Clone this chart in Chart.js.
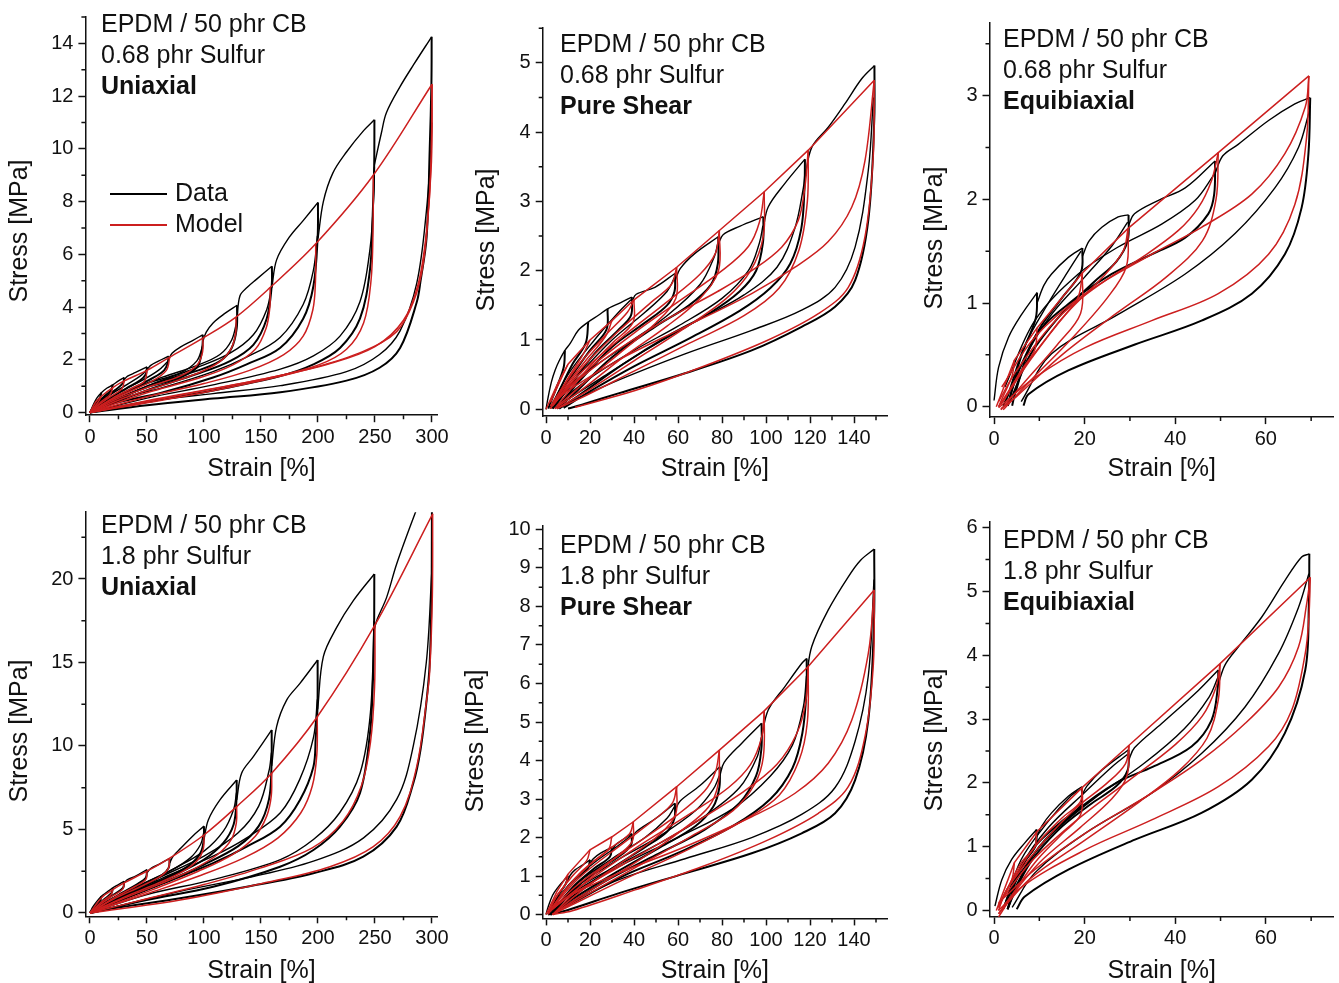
<!DOCTYPE html>
<html>
<head>
<meta charset="utf-8">
<script src="https://cdn.jsdelivr.net/npm/chart.js@4.4.1/dist/chart.umd.min.js"></script>
<style>
  body { margin: 0; width: 1339px; height: 983px; overflow: hidden; background: #fff;
         font-family: "Liberation Sans", Arial, sans-serif; color: #111; }
  canvas { position: absolute; }
  .note { position: absolute; font-size: 25px; line-height: 31px; white-space: nowrap; }
  .legend { position: absolute; font-size: 25px; line-height: 31px; white-space: nowrap; }
  .legend i { display: inline-block; width: 57px; height: 2px; vertical-align: middle; margin-right: 8px; }
</style>
</head>
<body>
<script>
// ---- tick labels ----
const uniXTicks = [0, 50, 100, 150, 200, 250, 300];
const shearXTicks = [0, 20, 40, 60, 80, 100, 120, 140];
const biaxXTicks = [0, 20, 40, 60];
const u1YTicks = [0, 2, 4, 6, 8, 10, 12, 14];
const s1YTicks = [0, 1, 2, 3, 4, 5];
const e1YTicks = [0, 1, 2, 3];
const u2YTicks = [0, 5, 10, 15, 20];
const s2YTicks = [0, 1, 2, 3, 4, 5, 6, 7, 8, 9, 10];
const e2YTicks = [0, 1, 2, 3, 4, 5, 6];

// ---- 0.68 phr sulfur, uniaxial ----  [strain %, stress MPa]
const u1Virgin = [
  [[0,0],[3,0.3],[6,0.55],[10,0.75],[15,0.93],[20,1.05],[25,1.2],[30,1.33]],
  [[30,1.25],[33,1.38],[40,1.52],[50,1.73]],
  [[50,1.62],[53,1.78],[60,1.95],[69,2.14]],
  [[69,2.0],[72,2.25],[80,2.5],[90,2.73],[99,2.95]],
  [[99,2.7],[102,3.05],[108,3.4],[118,3.75],[129,4.07]],
  [[129,3.6],[131.6,4.43],[138,4.75],[146,5.05],[159.6,5.55]],
  [[159.6,4.75],[163.7,5.79],[175,6.66],[187,7.28],[200,7.97]],
  [[200,6.6],[204.7,8.0],[213,9.08],[225,9.88],[240,10.69],[249.5,11.1]],
  [[249.5,9.4],[255.6,10.6],[260,11.37],[272,12.36],[284,13.2],[299.7,14.25]]
];
const u1Unload = [
  [[299.7,14.25],[299.5,12.5],[298,10],[295.3,6.66],[290,5.0],[286.6,4.18],[272,2.45],[254,1.7],[225,1.21],[167,0.77],[108,0.53],[50,0.28],[0,0]],
  [[249.5,11.1],[249.3,9.4],[248,7.5],[245.6,5.42],[236.8,3.56],[219.3,2.45],[196,1.83],[167,1.39],[108,0.84],[50,0.4],[0,0]],
  [[200,7.97],[199.7,6.66],[196,4.8],[187,3.56],[166.7,2.45],[137.4,1.83],[108,1.33],[64.3,0.77],[20.5,0.34],[0,0]],
  [[159.6,5.55],[159.4,4.8],[155,3.56],[143.3,2.57],[122.8,1.95],[93.6,1.46],[49.7,0.84],[0,0]],
  [[129,4.07],[128.7,3.19],[124.3,2.45],[114,1.95],[93.6,1.58],[64.3,1.21],[35,0.71],[0,0]],
  [[99,2.95],[98.8,2.6],[97,2.05],[93.6,1.7],[79,1.33],[49.7,0.96],[20.5,0.46],[0,0]],
  [[69,2.14],[68,1.85],[65,1.6],[58,1.38],[45,1.08],[25,0.65],[0,0]],
  [[50,1.73],[49,1.45],[44,1.22],[32,0.92],[15,0.48],[0,0]],
  [[30,1.33],[29,1.12],[22,0.85],[10,0.45],[0,0]],
  [[20,1.05],[18.5,0.85],[11,0.55],[0,0]],
  [[10,0.75],[8.5,0.55],[4,0.28],[0,0]]
];
const u1Reload = [
  [[0,0],[50,0.42],[108,0.72],[167,1.02],[225,1.55],[254,2.2],[272,3.1],[286.6,4.9],[295,7.6],[299,10.0],[299.8,11.0]],
  [[0,0],[50,0.55],[108,1.05],[167,1.65],[196,2.15],[219.3,2.9],[236.8,4.2],[245.6,6.2],[249,8.3],[249.5,9.3]],
  [[0,0],[20.5,0.45],[64.3,0.95],[108,1.55],[137.4,2.1],[166.7,2.85],[187,4.1],[196,5.4],[199.5,6.7]],
  [[0,0],[49.7,1.0],[93.6,1.7],[122.8,2.25],[143.3,2.95],[155,3.9],[159.5,4.8]],
  [[0,0],[35,0.85],[64.3,1.35],[93.6,1.78],[114,2.2],[124.3,2.75],[129,3.5]],
  [[0,0],[20.5,0.55],[49.7,1.1],[79,1.5],[93.6,1.95],[99,2.55]],
  [[0,0],[25,0.75],[45,1.2],[60,1.6],[68.5,1.95]],
  [[0,0],[15,0.58],[32,1.05],[44,1.38],[49.5,1.6]]
];
const u1ModelVirgin = [[0,0],[5,0.4],[10,0.62],[20,0.95],[30,1.2],[50,1.6],[70,2.1],[99,2.82],[128,3.62],[158,4.74],[198,6.4],[248.5,9.0],[300,12.45]];
const u1ModelUnload = [
  [[300,12.45],[299.8,10.8],[298,8.4],[292.4,5.67],[283.6,4.18],[269,3.07],[239.7,2.32],[196,1.7],[137.4,1.09],[79,0.59],[0,0]],
  [[300,12.45],[299.5,9.5],[295,6.8],[288,4.9],[275,3.5],[250,2.5],[210,1.85],[150,1.25],[90,0.75],[0,0]],
  [[248.5,9.0],[248.3,7.0],[246.5,5.0],[240,3.4],[225,2.4],[200,1.8],[150,1.25],[100,0.85],[50,0.45],[0,0]],
  [[198,6.4],[197.8,5.0],[195.5,3.9],[187,2.9],[170,2.2],[140,1.6],[100,1.1],[50,0.6],[0,0]],
  [[158,4.74],[157.8,4.0],[154.5,3.2],[145,2.4],[125,1.8],[95,1.3],[50,0.75],[0,0]],
  [[128,3.62],[127.8,3.0],[123.5,2.4],[113,1.9],[95,1.5],[65,1.05],[30,0.55],[0,0]],
  [[99,2.82],[98.8,2.3],[94,1.8],[80,1.4],[50,0.95],[20,0.45],[0,0]],
  [[70,2.1],[67,1.6],[55,1.2],[35,0.8],[15,0.4],[0,0]],
  [[50,1.6],[48,1.2],[38,0.95],[20,0.55],[0,0]],
  [[30,1.2],[28,0.9],[18,0.6],[8,0.3],[0,0]],
  [[20,0.95],[18,0.7],[10,0.42],[0,0]],
  [[10,0.62],[8,0.45],[4,0.22],[0,0]]
];

// ---- 0.68 phr sulfur, pure shear ----
const s1Virgin = [
  [[0,0],[1,0.18],[2.5,0.4],[4.1,0.56],[6,0.7],[8.6,0.85],[11,0.95],[14.7,1.14],[19.2,1.26],[24,1.36],[28,1.45],[34,1.54],[39,1.62]],
  [[39,1.55],[41,1.66],[49.5,1.76],[58.6,1.96]],
  [[58.6,1.85],[61,2.03],[67.7,2.25],[78.3,2.49]],
  [[78.3,2.38],[80.5,2.52],[88,2.64],[98.8,2.78]],
  [[98.8,2.62],[101,2.92],[108.6,3.26],[117.7,3.61]],
  [[117.7,3.35],[120.8,3.78],[128.3,4.07],[135.9,4.41],[143.5,4.77],[149.3,4.96]]
];
const s1Unload = [
  [[149.3,4.96],[149.2,4.17],[146.5,2.73],[140.5,1.86],[131.4,1.48],[116.2,1.19],[93.5,0.85],[63.2,0.52],[32.9,0.23],[17.7,0.08],[10,0.01]],
  [[117.7,3.61],[117.5,3.2],[116,2.6],[111,2.1],[102,1.75],[88,1.42],[65,1.02],[40,0.62],[20,0.26],[8,0.02]],
  [[98.8,2.78],[98.6,2.4],[95.5,2.0],[88,1.7],[75,1.4],[55,1.05],[35,0.65],[15,0.2],[6,0.01]],
  [[78.3,2.49],[78.1,2.1],[75,1.8],[65,1.5],[50,1.2],[30,0.75],[12,0.2],[5,0.01]],
  [[58.6,1.96],[58.4,1.7],[55,1.5],[45,1.25],[30,0.9],[15,0.4],[5,0.01]],
  [[39,1.62],[38.6,1.35],[33,1.15],[22,0.8],[10,0.3],[3,0.01]],
  [[28,1.45],[27.5,1.15],[20,0.85],[10,0.4],[3,0.01]],
  [[19.2,1.26],[18,0.95],[12,0.65],[5,0.2],[2,0.01]],
  [[8.6,0.85],[8,0.6],[4,0.25],[1,0.01]]
];
const s1Reload = [
  [[5,0.02],[32.9,0.42],[63.2,0.8],[93.5,1.14],[116.2,1.43],[131.4,1.76],[140.5,2.34],[146.5,3.45],[148.8,4.5]],
  [[4,0.02],[25,0.45],[45,0.85],[70,1.3],[90,1.65],[105,2.05],[113,2.6],[117,3.2],[117.7,3.4]],
  [[3,0.02],[20,0.45],[40,0.85],[60,1.2],[80,1.6],[92,2.0],[97,2.4],[98.6,2.65]],
  [[3,0.02],[15,0.45],[35,0.9],[55,1.35],[70,1.8],[76.5,2.2],[78.1,2.4]],
  [[2,0.02],[15,0.5],[30,1.0],[45,1.4],[55,1.7],[58.4,1.9]],
  [[2,0.02],[10,0.5],[22,1.0],[33,1.4],[38.6,1.58]]
];
const s1ModelVirgin = [[0,0],[5,0.35],[10,0.65],[20,1.0],[30,1.28],[40,1.58],[59.4,2.05],[78.8,2.58],[99.2,3.14],[119.2,3.74],[149.2,4.75]];
const s1ModelUnload = [
  [[149.2,4.75],[145,3.59],[139,2.92],[128.3,2.42],[113.2,2.05],[93.5,1.67],[63.2,1.19],[32.9,0.71],[10,0.27],[2,0.05]],
  [[149.2,4.75],[148.8,3.69],[145,2.49],[137.4,1.76],[123.8,1.38],[101,1.0],[70.8,0.61],[40.5,0.27],[13.2,0.03]],
  [[119.2,3.74],[117.7,3.21],[114.7,2.73],[107.1,2.34],[93.5,2.0],[78,1.7],[55,1.3],[30,0.8],[10,0.3],[2,0.05]],
  [[119.2,3.74],[118.8,3.0],[115,2.3],[106,1.75],[90,1.35],[65,0.95],[40,0.55],[15,0.15],[5,0.01]],
  [[99.2,3.14],[97,2.7],[92,2.35],[80,2.0],[60,1.55],[40,1.1],[20,0.6],[5,0.15]],
  [[99.2,3.14],[98.8,2.5],[93,2.0],[82,1.6],[62,1.15],[40,0.7],[18,0.25],[5,0.01]],
  [[78.8,2.58],[77,2.25],[70,1.95],[55,1.55],[35,1.05],[15,0.5],[3,0.05]],
  [[78.8,2.58],[78.4,2.0],[70,1.6],[55,1.2],[35,0.75],[15,0.25],[4,0.01]],
  [[59.4,2.05],[57,1.8],[48,1.55],[32,1.1],[15,0.55],[3,0.05]],
  [[59.4,2.05],[59,1.6],[50,1.25],[35,0.85],[18,0.4],[4,0.01]],
  [[40,1.58],[37,1.4],[28,1.1],[15,0.65],[3,0.1]],
  [[40,1.58],[39.5,1.25],[30,0.95],[18,0.55],[5,0.05]],
  [[30,1.28],[27,1.05],[18,0.7],[8,0.3],[2,0.01]],
  [[20,1.0],[17,0.8],[10,0.45],[2,0.01]],
  [[10,0.65],[7,0.45],[2,0.1]]
];

// ---- 0.68 phr sulfur, equibiaxial ----
const e1Virgin = [
  [[0,0.06],[1,0.38],[3.2,0.67],[6.1,0.89],[9.5,1.1]],
  [[9.5,1.0],[11,1.17],[12.7,1.28],[16.4,1.44],[19.5,1.53]],
  [[19.5,1.45],[21,1.6],[23.8,1.73],[27.4,1.83],[29.7,1.85]],
  [[29.7,1.75],[31,1.86],[36.3,1.99],[42.2,2.11],[48.8,2.37]],
  [[48.8,2.25],[50.5,2.42],[53.9,2.53],[60.6,2.76],[66.4,2.92],[69.8,2.98]]
];
const e1Unload = [
  [[69.8,2.98],[69.4,2.44],[67.9,1.92],[64.2,1.47],[56.9,1.09],[45.8,0.83],[31.1,0.6],[16.4,0.35],[7.6,0.12],[6.5,0.01]],
  [[48.8,2.37],[48.6,2.05],[47.3,1.86],[42.2,1.63],[34.8,1.47],[26,1.28],[16.4,0.99],[9,0.67],[4.6,0.12],[4,0.01]],
  [[29.7,1.85],[29.5,1.6],[27,1.4],[22,1.2],[15,0.9],[8,0.5],[4,0.1],[3,0.01]],
  [[19.5,1.53],[19.2,1.3],[15,1.05],[10,0.75],[5,0.3],[3,0.01]],
  [[9.5,1.1],[9.2,0.85],[6,0.5],[3,0.1],[2,0.01]]
];
const e1Reload = [
  [[6,0.05],[12.7,0.51],[27.4,0.89],[42.2,1.28],[53.2,1.67],[62,2.11],[67.2,2.5],[69.6,2.85]],
  [[2.4,0.19],[9,0.83],[18.6,1.28],[27.4,1.54],[37,1.76],[44.4,1.99],[48.6,2.24]],
  [[3,0.02],[6,0.4],[12,0.85],[20,1.25],[26,1.55],[29.5,1.78]],
  [[3,0.02],[7,0.6],[12,1.0],[17,1.35],[19.2,1.5]]
];
const e1ModelVirgin = [[0.5,0],[4.5,0.45],[9.5,0.76],[19.5,1.29],[29.6,1.72],[49.5,2.45],[69.5,3.19]];
const e1ModelUnload = [
  [[69.5,3.19],[68.7,2.89],[64.2,2.44],[56.9,2.05],[45.8,1.73],[34.8,1.47],[20.1,1.09],[9,0.67],[1.7,0.19]],
  [[69.5,3.19],[69,2.6],[66.4,1.95],[60.6,1.47],[49.5,1.09],[34.8,0.83],[20.1,0.57],[9,0.28],[1,-0.01]],
  [[49.5,2.45],[48,2.18],[45.1,1.92],[40.7,1.7],[33,1.45],[24,1.2],[14,0.85],[5,0.35],[1,0.05]],
  [[49.5,2.45],[49,2.0],[46,1.6],[38,1.25],[27,0.9],[15,0.5],[5,0.1],[1.5,-0.02]],
  [[29.6,1.72],[28.5,1.5],[24,1.25],[16,0.9],[8,0.45],[1.5,0.02]],
  [[29.6,1.72],[29.2,1.35],[25,1.05],[17,0.65],[8,0.25],[2,-0.03]],
  [[19.5,1.29],[18.5,1.05],[14,0.8],[7,0.4],[1,0.0]],
  [[19.5,1.29],[19.1,0.9],[14,0.6],[7,0.25],[1.5,-0.03]],
  [[9.5,0.76],[9,0.55],[6,0.35],[2,0.05]],
  [[4.5,0.45],[4,0.3],[2,0.1],[1,0]]
];

// ---- 1.8 phr sulfur, uniaxial ----
const u2Virgin = [
  [[0,0],[2,0.3],[5,0.6],[10,1.0],[15,1.25],[20,1.5],[25,1.7],[30,1.9]],
  [[30,1.8],[33,2.0],[40,2.2],[50,2.6]],
  [[50,2.4],[53,2.65],[60,2.9],[70,3.27]],
  [[70,3.0],[73,3.4],[80,3.9],[90,4.6],[100,5.2]],
  [[100,4.4],[103.8,5.57],[114,6.77],[128.7,7.96]],
  [[128.7,6.77],[133,8.37],[143.3,9.36],[159.4,10.96]],
  [[159.4,8.8],[163.7,11.16],[172.5,12.75],[184.2,13.75],[199.7,15.15]],
  [[199.7,12.2],[204.7,15.35],[216.4,17.1],[231,18.7],[249.4,20.3]],
  [[249.4,17.0],[252,17.6],[260.2,18.9],[269,20.9],[285,23.9],[300,26.5]]
];
const u2Unload = [
  [[300,26.5],[299.8,21],[299.5,18.7],[298,15],[295.3,12.75],[290,9.8],[283.6,7.77],[269,5.17],[239.7,3.37],[195.9,2.38],[137.5,1.57],[79,0.88],[20.5,0.28],[0,0]],
  [[249.4,20.3],[249.2,17],[248,13.5],[245.6,10.76],[236.8,7.17],[219.3,5.17],[196,3.77],[166.7,2.77],[108,1.57],[49.7,0.78],[0,0]],
  [[199.7,15.15],[199.5,12.2],[198,10.5],[196,8.76],[184.2,6.77],[166.7,5.17],[137.5,3.97],[108,2.98],[64.3,1.78],[25,0.7],[0,0]],
  [[159.4,10.96],[159.2,8.8],[157,6.8],[148,5.2],[130,4.0],[100,2.9],[60,1.7],[25,0.75],[0,0]],
  [[128.7,7.96],[128.5,6.77],[126,5.3],[117,4.2],[100,3.2],[75,2.3],[45,1.4],[15,0.5],[0,0]],
  [[100,5.2],[99.8,4.4],[97,3.6],[88,2.9],[70,2.2],[45,1.45],[20,0.7],[0,0]],
  [[70,3.27],[69,2.7],[63,2.25],[50,1.75],[30,1.1],[10,0.4],[0,0]],
  [[50,2.6],[49,2.1],[42,1.75],[28,1.2],[12,0.55],[0,0]],
  [[30,1.9],[29,1.5],[22,1.15],[12,0.7],[0,0]],
  [[20,1.5],[19,1.2],[13,0.85],[5,0.35],[0,0]],
  [[10,1.0],[9,0.75],[5,0.45],[0,0]]
];
const u2Reload = [
  [[0,0],[79,1.3],[137.5,2.1],[196,3.1],[240,4.5],[269,6.8],[283.6,10],[295,15],[299.8,20.4]],
  [[0,0],[50,1.1],[108,2.0],[167,3.2],[196,4.4],[219,6.0],[237,8.4],[246,12],[249.2,17.5]],
  [[0,0],[25,0.9],[64,2.1],[108,3.4],[137.5,4.5],[167,6.0],[184,8.0],[196,10.5],[199.5,12.8]],
  [[0,0],[25,0.95],[60,2.1],[100,3.4],[130,4.8],[148,6.4],[157,8.5],[159.2,9.6]],
  [[0,0],[15,0.7],[45,1.7],[75,2.7],[100,3.7],[117,4.9],[126,6.2],[128.5,7.2]],
  [[0,0],[20,0.85],[45,1.7],[70,2.5],[88,3.3],[97,4.1],[99.8,4.8]]
];
const u2ModelVirgin = [[0,0],[10,0.9],[20,1.4],[30,1.8],[50,2.5],[69.6,3.27],[100,4.67],[128.7,6.37],[159.4,8.37],[199.4,11.75],[250,17.25],[300.6,23.9]];
const u2ModelUnload = [
  [[300.6,23.9],[300.3,19],[298,14.5],[295.3,12.75],[286.6,8.76],[272,5.77],[248.5,3.97],[210.5,2.77],[152,1.78],[79,0.78],[0,0]],
  [[250,17.25],[249.6,13.5],[246,10.2],[238,7.6],[222,5.5],[195,3.9],[150,2.7],[100,1.7],[50,0.85],[0,0]],
  [[199.4,11.75],[199,9.5],[195,7.6],[185,6.0],[165,4.5],[135,3.3],[95,2.2],[50,1.15],[0,0]],
  [[159.4,8.37],[159,7],[155,5.8],[145,4.6],[125,3.5],[95,2.5],[55,1.4],[20,0.5],[0,0]],
  [[128.7,6.37],[128.4,5.4],[124,4.4],[112,3.5],[90,2.6],[60,1.7],[25,0.75],[0,0]],
  [[100,4.67],[99.6,3.9],[95,3.2],[82,2.5],[60,1.8],[30,0.95],[0,0]],
  [[69.6,3.27],[69,2.7],[62,2.2],[45,1.6],[20,0.8],[0,0]],
  [[50,2.5],[49,2.0],[40,1.6],[22,0.95],[0,0]],
  [[30,1.8],[28.5,1.4],[18,0.95],[6,0.35],[0,0]],
  [[20,1.4],[18.5,1.1],[10,0.65],[0,0]]
];

// ---- 1.8 phr sulfur, pure shear ----
const s2Virgin = [
  [[0,0],[1,0.2],[3,0.5],[5.6,0.72],[8,0.88],[10,1.0]],
  [[10,0.9],[11,1.02],[13.2,1.16],[17,1.3],[20,1.42]],
  [[20,1.32],[21.5,1.45],[25,1.6],[30,1.75]],
  [[30,1.65],[31.5,1.8],[35,1.95],[39,2.1]],
  [[39,1.95],[41,2.15],[50,2.5],[58.6,2.89]],
  [[58.6,2.7],[61,2.95],[70,3.35],[79,3.84]],
  [[79,3.6],[81,3.95],[89,4.45],[98,4.97]],
  [[98,4.6],[101,5.31],[108.6,5.92],[116.2,6.52],[118.5,6.65]],
  [[118.5,6.2],[120.8,6.96],[128.3,7.91],[137.4,8.77],[143,9.2],[149.2,9.49]]
];
const s2Unload = [
  [[149.2,9.49],[149.1,7.65],[146.5,5.05],[140.5,3.49],[131.4,2.63],[116.2,2.11],[93.5,1.59],[63.2,1.07],[32.9,0.55],[10,0.12],[1,0.0]],
  [[118.5,6.65],[118.4,5.8],[116.5,4.7],[112,3.8],[102,3.0],[85,2.3],[60,1.6],[35,1.0],[12,0.3],[2,0.0]],
  [[98,4.97],[97.9,4.3],[95.5,3.6],[88,2.9],[72,2.2],[50,1.55],[28,0.9],[8,0.2],[2,0.0]],
  [[79,3.84],[78.8,3.3],[76,2.8],[68,2.3],[52,1.75],[32,1.1],[12,0.4],[2,0.0]],
  [[58.6,2.89],[58.4,2.5],[55,2.15],[45,1.75],[30,1.2],[14,0.55],[2,0.0]],
  [[39,2.1],[38.6,1.8],[33,1.5],[22,1.1],[10,0.5],[2,0.0]],
  [[30,1.75],[29,1.5],[22,1.2],[12,0.7],[2,0.0]],
  [[20,1.42],[19,1.2],[13,0.9],[5,0.4],[1,0.0]],
  [[10,1.0],[9,0.8],[5,0.45],[1,0.0]]
];
const s2Reload = [
  [[1,0.0],[32.9,0.9],[63.2,1.45],[93.5,2.0],[116.2,2.6],[131.4,3.3],[140.5,4.5],[146.5,6.2],[149.1,8.7]],
  [[2,0.0],[12,0.55],[35,1.3],[60,2.0],[85,2.75],[102,3.6],[112,4.4],[117,5.4],[118.4,6.2]],
  [[2,0.0],[12,0.6],[30,1.2],[50,1.8],[72,2.55],[88,3.3],[96,4.1],[97.9,4.6]],
  [[2,0.0],[12,0.65],[32,1.4],[52,2.05],[68,2.7],[76,3.25],[78.8,3.6]],
  [[2,0.0],[14,0.8],[30,1.45],[45,2.0],[55,2.5],[58.4,2.8]],
  [[2,0.0],[10,0.75],[22,1.35],[33,1.8],[38.6,2.05]]
];
const s2ModelVirgin = [[0,0],[5,0.6],[10,1.05],[20,1.68],[30,2.02],[39.7,2.41],[59.4,3.32],[78.8,4.27],[99.2,5.29],[119.2,6.44],[149.2,8.43]];
const s2ModelUnload = [
  [[149.2,8.43],[146.5,6.78],[139,5.05],[128.3,3.93],[113.2,3.15],[93.5,2.54],[63.2,1.76],[32.9,1.07],[10,0.46],[1,0.05]],
  [[149.2,8.43],[148.8,6.5],[145,4.62],[137.4,3.32],[123.8,2.63],[101,1.94],[70.8,1.24],[40.5,0.64],[12,0.1],[3,0.0]],
  [[119.2,6.44],[118,5.5],[114,4.7],[105,3.9],[90,3.2],[65,2.3],[35,1.3],[10,0.45],[1,0.05]],
  [[119.2,6.44],[118.8,5.0],[115,4.0],[106,3.1],[90,2.45],[65,1.7],[35,0.9],[10,0.2],[3,0.0]],
  [[99.2,5.29],[98,4.6],[93,3.9],[83,3.3],[65,2.6],[40,1.7],[15,0.7],[1,0.05]],
  [[99.2,5.29],[98.8,4.1],[95,3.4],[85,2.7],[65,2.0],[40,1.2],[15,0.4],[3,0.0]],
  [[78.8,4.27],[77,3.7],[72,3.2],[60,2.6],[40,1.8],[15,0.8],[1,0.05]],
  [[78.8,4.27],[78.3,3.4],[74,2.8],[62,2.2],[42,1.4],[15,0.45],[3,0.0]],
  [[59.4,3.32],[57.5,2.9],[50,2.5],[35,1.85],[15,0.95],[1,0.05]],
  [[59.4,3.32],[58.9,2.6],[52,2.1],[38,1.5],[18,0.7],[3,0.0]],
  [[39.7,2.41],[38,2.1],[30,1.75],[15,1.05],[1,0.05]],
  [[39.7,2.41],[39.2,1.9],[32,1.5],[18,0.85],[3,0.0]],
  [[29.9,2.02],[28.5,1.7],[20,1.3],[8,0.6],[1,0.02]],
  [[20,1.68],[18.5,1.4],[12,1.0],[4,0.4],[1,0.0]],
  [[10,1.05],[9,0.8],[5,0.5],[1,0.05]]
];

// ---- 1.8 phr sulfur, equibiaxial ----
const e2Virgin = [
  [[0.2,0.07],[1.7,0.48],[3.9,0.8],[6.8,1.06],[9.4,1.27]],
  [[9.4,1.15],[10.5,1.32],[12.7,1.53],[16.4,1.79],[19.4,1.94]],
  [[19.4,1.8],[20.5,1.95],[23.8,2.2],[29.7,2.52]],
  [[29.7,2.35],[31,2.55],[37,2.93],[45.1,3.45],[49.5,3.77]],
  [[49.5,3.55],[51,3.85],[53.9,4.13],[59.1,4.6],[64.2,5.17],[67.9,5.54],[69.6,5.59]]
];
const e2Unload = [
  [[69.6,5.59],[69.5,4.81],[68.7,3.77],[64.2,2.78],[56.9,2.05],[45.8,1.53],[31.1,1.11],[16.4,0.64],[6.8,0.22],[5,0.02]],
  [[49.5,3.77],[49.4,3.5],[48,2.98],[43.6,2.57],[35,2.25],[27,2.0],[18,1.55],[10,1.0],[5,0.4],[3,0.02]],
  [[29.7,2.52],[29.5,2.2],[27,1.95],[21,1.65],[14,1.25],[8,0.75],[4,0.2],[3,0.02]],
  [[19.4,1.94],[19.1,1.65],[15,1.4],[9,1.0],[5,0.5],[3,0.02]],
  [[9.4,1.27],[9.1,1.0],[6,0.7],[3,0.2],[2,0.02]]
];
const e2Reload = [
  [[4,0.05],[9,0.59],[20.1,1.21],[34.8,1.84],[45.8,2.46],[55.4,3.19],[62.8,4.03],[67.2,4.75],[69.5,5.28]],
  [[2,0.02],[6,0.6],[12,1.15],[22,1.75],[33,2.3],[42,2.85],[47.5,3.35],[49.4,3.65]],
  [[2,0.02],[6,0.7],[12,1.3],[20,1.85],[26,2.25],[29.5,2.45]],
  [[2,0.02],[6,0.8],[12,1.4],[17,1.8],[19.1,1.9]]
];
const e2ModelVirgin = [[0.5,0],[4.5,0.75],[9.4,1.23],[19.5,1.93],[29.8,2.59],[49.9,3.87],[69.8,5.22]];
const e2ModelUnload = [
  [[69.8,5.22],[69,4.8],[67.2,4.13],[62.8,3.5],[55.4,2.93],[45.8,2.36],[34.8,1.84],[20.1,1.21],[9,0.64],[1,0.12]],
  [[69.8,5.22],[69.5,4.6],[68.7,4.03],[65.7,3.14],[60.6,2.57],[49.5,1.94],[34.8,1.42],[20.1,0.95],[5.4,0.33],[1,-0.1]],
  [[49.9,3.87],[49,3.5],[46,3.05],[40,2.6],[30,2.05],[18,1.4],[8,0.75],[1,0.1]],
  [[49.9,3.87],[49.5,3.3],[47,2.7],[41,2.2],[32,1.7],[20,1.1],[8,0.5],[1,-0.05]],
  [[29.8,2.59],[29,2.3],[25,2.0],[18,1.6],[10,1.0],[3,0.35],[1,0.05]],
  [[29.8,2.59],[29.3,2.1],[26,1.75],[19,1.3],[10,0.75],[3,0.15],[1,-0.05]],
  [[19.5,1.93],[19,1.7],[15,1.45],[9,1.0],[3,0.35],[1,0.05]],
  [[19.5,1.93],[19.1,1.5],[15,1.2],[9,0.75],[3,0.15],[1,0]],
  [[9.4,1.23],[9,1.0],[6,0.75],[2,0.2],[1,0]],
  [[4.5,0.75],[4,0.5],[2,0.2],[1,0.05]]
];

const RED = '#cc1f1f';
const AXIS = '#111';
const FONT = "'Liberation Sans', Arial, sans-serif";
Chart.defaults.font.family = FONT;
Chart.defaults.color = '#111';

// box = canvas rect on page, plot = chart area on page (left, top, right, bottom), yTitle = centre on page
const panels = [
  { box: [0, 0, 455, 487], plot: [85.4, 9.0, 437.7, 415.2], x: [-4, 305], y: [-0.1, 15], yTitle: [20, 231],
    xTicks: uniXTicks, yTicks: u1YTicks, virgin: u1Virgin, unload: u1Unload, reload: u1Reload,
    modelVirgin: u1ModelVirgin, modelUnload: u1ModelUnload, straight: false,
    note: ['EPDM / 50 phr CB', '0.68 phr Sulfur', 'Uniaxial'], notePos: [101, 32] },
  { box: [466, 0, 429, 487], plot: [542.7, 28.2, 887, 416.2], x: [-1.5, 155], y: [-0.1, 5.5], yTitle: [487, 240],
    xTicks: shearXTicks, yTicks: s1YTicks, virgin: s1Virgin, unload: s1Unload, reload: s1Reload,
    modelVirgin: s1ModelVirgin, modelUnload: s1ModelUnload, straight: true,
    note: ['EPDM / 50 phr CB', '0.68 phr Sulfur', 'Pure Shear'], notePos: [560, 52] },
  { box: [914, 0, 425, 487], plot: [989.5, 23.0, 1333.8, 417.1], x: [-1, 75], y: [-0.1, 3.7], yTitle: [935, 238],
    xTicks: biaxXTicks, yTicks: e1YTicks, virgin: e1Virgin, unload: e1Unload, reload: e1Reload,
    modelVirgin: e1ModelVirgin, modelUnload: e1ModelUnload, straight: true,
    note: ['EPDM / 50 phr CB', '0.68 phr Sulfur', 'Equibiaxial'], notePos: [1003, 47] },
  { box: [0, 495, 455, 494], plot: [85.4, 512.2, 437.7, 916.3], x: [-4, 305], y: [-0.2, 24], yTitle: [20, 731],
    xTicks: uniXTicks, yTicks: u2YTicks, virgin: u2Virgin, unload: u2Unload, reload: u2Reload,
    modelVirgin: u2ModelVirgin, modelUnload: u2ModelUnload, straight: false,
    note: ['EPDM / 50 phr CB', '1.8 phr Sulfur', 'Uniaxial'], notePos: [101, 533] },
  { box: [455, 495, 440, 494], plot: [542.7, 525.6, 887, 918.4], x: [-1.5, 155], y: [-0.1, 10.1], yTitle: [476, 741],
    xTicks: shearXTicks, yTicks: s2YTicks, virgin: s2Virgin, unload: s2Unload, reload: s2Reload,
    modelVirgin: s2ModelVirgin, modelUnload: s2ModelUnload, straight: true,
    note: ['EPDM / 50 phr CB', '1.8 phr Sulfur', 'Pure Shear'], notePos: [560, 553] },
  { box: [914, 495, 425, 494], plot: [989.5, 521.3, 1333.8, 916.9], x: [-1, 75], y: [-0.1, 6.1], yTitle: [935, 740],
    xTicks: biaxXTicks, yTicks: e2YTicks, virgin: e2Virgin, unload: e2Unload, reload: e2Reload,
    modelVirgin: e2ModelVirgin, modelUnload: e2ModelUnload, straight: true,
    note: ['EPDM / 50 phr CB', '1.8 phr Sulfur', 'Equibiaxial'], notePos: [1003, 548] }
];

// smooth 2D spline through the read points; straight for the model envelope where the model is piecewise
function curve(points, color, width, order, straight) {
  return {
    data: points, borderColor: color, borderWidth: width, pointRadius: 0, fill: false, order: order,
    tension: straight ? 0 : 0.35
  };
}

// minor ticks halfway between the labelled ones
function minorValues(major, range) {
  const step = major[1] - major[0];
  const out = [];
  for (let v = major[0] - step / 2; v <= range[1] + 1e-9; v += step) {
    if (v >= range[0]) out.push(v);
  }
  return out;
}

// short minor tick marks plus the vertical axis title, which sits below the axis centre in the original
function axisExtras(xMinor, yMinor, titlePos) {
  return {
    id: 'axisExtras',
    afterDraw(chart) {
      const { ctx, chartArea, scales } = chart;
      ctx.save();
      ctx.strokeStyle = AXIS;
      ctx.lineWidth = 1.5;
      ctx.beginPath();
      xMinor.forEach(v => {
        const px = scales.x.getPixelForValue(v);
        ctx.moveTo(px, chartArea.bottom);
        ctx.lineTo(px, chartArea.bottom + 4);
      });
      yMinor.forEach(v => {
        const py = scales.y.getPixelForValue(v);
        ctx.moveTo(chartArea.left, py);
        ctx.lineTo(chartArea.left - 4, py);
      });
      ctx.stroke();
      ctx.translate(titlePos[0], titlePos[1]);
      ctx.rotate(-Math.PI / 2);
      ctx.fillStyle = '#111';
      ctx.font = '25px ' + FONT;
      ctx.textAlign = 'center';
      ctx.textBaseline = 'middle';
      ctx.fillText('Stress [MPa]', 0, 0);
      ctx.restore();
    }
  };
}

panels.forEach(p => {
  const [bl, bt, bw, bh] = p.box;
  const [pl, pt, pr, pb] = p.plot;
  const canvas = document.createElement('canvas');
  canvas.width = bw;
  canvas.height = bh;
  canvas.style.left = bl + 'px';
  canvas.style.top = bt + 'px';
  document.body.appendChild(canvas);

  const datasets = [];
  datasets.push(curve(p.modelVirgin, RED, 1.5, 1, p.straight));
  p.modelUnload.forEach(c => datasets.push(curve(c, RED, 1.5, 1, false)));
  p.virgin.forEach(c => datasets.push(curve(c, '#000', 1.4, 2, false)));
  p.unload.forEach(c => datasets.push(curve(c, '#000', 2.0, 2, false)));
  p.reload.forEach(c => datasets.push(curve(c, '#000', 1.4, 2, false)));

  const tickFont = { size: 20 };

  new Chart(canvas, {
    type: 'line',
    data: { datasets },
    options: {
      responsive: false,
      animation: false,
      devicePixelRatio: 1,
      events: [],
      layout: { autoPadding: false, padding: { left: 0, top: pt - bt, right: bl + bw - pr, bottom: 0 } },
      plugins: { legend: { display: false }, tooltip: { enabled: false } },
      scales: {
        x: {
          type: 'linear', min: p.x[0], max: p.x[1],
          afterBuildTicks: s => { s.ticks = p.xTicks.map(v => ({ value: v })); },
          afterFit: s => { s.height = bt + bh - pb; },
          ticks: { autoSkip: false, maxRotation: 0, padding: 3, font: tickFont, color: '#111', callback: v => String(v) },
          grid: { drawOnChartArea: false, tickLength: 7, tickWidth: 1.5, tickColor: AXIS },
          border: { display: true, color: AXIS, width: 1.5 },
          title: { display: true, text: 'Strain [%]', font: { size: 25 }, color: '#111', padding: { top: 0, bottom: 3 } }
        },
        y: {
          type: 'linear', min: p.y[0], max: p.y[1],
          afterBuildTicks: s => { s.ticks = p.yTicks.map(v => ({ value: v })); },
          afterFit: s => { s.width = pl - bl; },
          ticks: { autoSkip: false, padding: 5, font: tickFont, color: '#111', callback: v => String(v) },
          grid: { drawOnChartArea: false, tickLength: 7, tickWidth: 1.5, tickColor: AXIS },
          border: { display: true, color: AXIS, width: 1.5 },
          title: { display: false }
        }
      }
    },
    plugins: [axisExtras(minorValues(p.xTicks, p.x), minorValues(p.yTicks, p.y), [p.yTitle[0] - bl, p.yTitle[1] - bt])]
  });

  const note = document.createElement('div');
  note.className = 'note';
  note.style.left = p.notePos[0] + 'px';
  note.style.top = (p.notePos[1] - 24) + 'px';
  note.innerHTML = '<div>' + p.note[0] + '</div><div>' + p.note[1] + '</div><div><b>' + p.note[2] + '</b></div>';
  document.body.appendChild(note);
});

// legend of the top-left panel
const legend = document.createElement('div');
legend.className = 'legend';
legend.style.left = '110px';
legend.style.top = '177px';
legend.innerHTML = '<div><i style="background:#000"></i>Data</div><div><i style="background:' + RED + '"></i>Model</div>';
document.body.appendChild(legend);
</script>
</body>
</html>
